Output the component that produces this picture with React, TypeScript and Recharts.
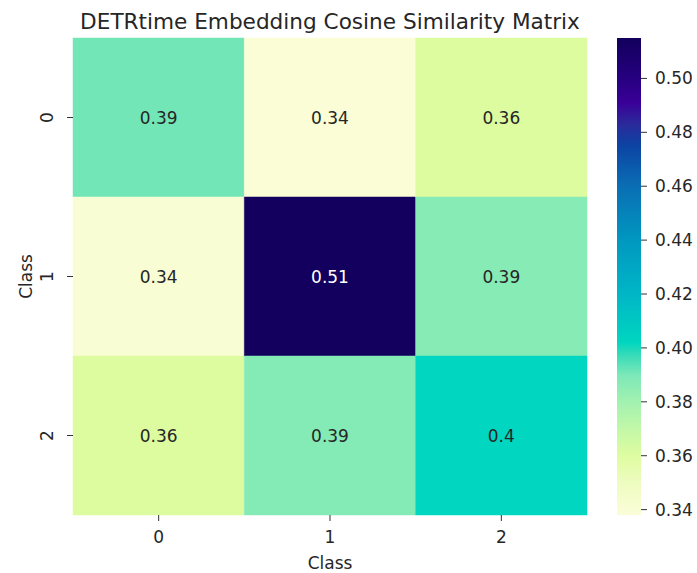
import React from 'react';
import { BarChart, Bar, XAxis, YAxis, Cell, LabelList } from 'recharts';

const rowLabels = ['0', '1', '2'];
const colLabels = ['0', '1', '2'];
const row0 = [0.391, 0.339, 0.3605];
const row1 = [0.34, 0.514, 0.387];
const row2 = [0.3605, 0.388, 0.402];
const matrix = [row0, row1, row2];
const colorbarTicks = [0.34, 0.36, 0.38, 0.4, 0.42, 0.44, 0.46, 0.48, 0.5];
const vmin = 0.338;
const vmax = 0.515;

const cmapValues = [0.338, 0.35, 0.36, 0.37, 0.38, 0.39, 0.398, 0.402, 0.42, 0.44, 0.46, 0.475, 0.483, 0.491, 0.5, 0.515];
const cmapColors = ['#fbfdd8', '#eefcc0', '#defca0', '#c2f8a8', '#a2f1b0', '#7ce8b8', '#30dab8', '#00d6c0', '#00b6c6', '#0098c0', '#0a6eb4', '#0c44a4', '#2a2a9a', '#3a0098', '#260080', '#12005c'];

const FONT = 'DejaVu Sans';
const TEXT = '#262626';

function hexToRgb(h: string) {
  const n = parseInt(h.slice(1), 16);
  return [(n >> 16) & 255, (n >> 8) & 255, n & 255];
}
function colorFor(v: number) {
  if (v <= cmapValues[0]) return cmapColors[0];
  for (let i = 1; i < cmapValues.length; i++) {
    if (v <= cmapValues[i]) {
      const t = (v - cmapValues[i - 1]) / (cmapValues[i] - cmapValues[i - 1]);
      const a = hexToRgb(cmapColors[i - 1]);
      const b = hexToRgb(cmapColors[i]);
      const c = a.map((x, k) => Math.round(x + (b[k] - x) * t));
      return `rgb(${c[0]},${c[1]},${c[2]})`;
    }
  }
  return cmapColors[cmapColors.length - 1];
}
function luminance(v: number) {
  const col = colorFor(v);
  let rgb: number[];
  if (col.startsWith('#')) rgb = hexToRgb(col);
  else rgb = col.slice(4, -1).split(',').map(Number);
  const lin = rgb.map((c) => {
    const s = c / 255;
    return s <= 0.03928 ? s / 12.92 : Math.pow((s + 0.055) / 1.055, 2.4);
  });
  return 0.2126 * lin[0] + 0.7152 * lin[1] + 0.0722 * lin[2];
}
function fmt2g(v: number) {
  return String(Number(v.toPrecision(2)));
}

const data = matrix.map((vals, i) => ({
  row: rowLabels[i],
  c0: 1,
  c1: 1,
  c2: 1,
  v0: vals[0],
  v1: vals[1],
  v2: vals[2],
}));

const colorbarData = [{ name: 'cb', range: [vmin, vmax] }];

const renderAnno = (props: any) => {
  const { x, y, width, height, value } = props;
  const cx = Number(x) + Number(width) / 2;
  const cy = Number(y) + Number(height) / 2;
  const v = Number(value);
  const fill = luminance(v) > 0.408 ? TEXT : '#ffffff';
  return (
    <text x={cx} y={cy} textAnchor="middle" dominantBaseline="central" fill={fill} fontSize={17} fontFamily={FONT}>
      {fmt2g(v)}
    </text>
  );
};

const YTick = (props: any) => {
  const { x, y, payload } = props;
  return (
    <text
      x={0}
      y={0}
      transform={`translate(${x - 12},${y}) rotate(-90)`}
      textAnchor="middle"
      fill={TEXT}
      fontSize={17}
      fontFamily={FONT}
    >
      {payload.value}
    </text>
  );
};

export default function App() {
  return (
    <div style={{ position: 'absolute', left: 0, top: 0, width: 697, height: 573, background: '#fff', fontFamily: FONT }}>
      <svg width={697} height={40} style={{ position: 'absolute', left: 0, top: 0 }}>
        <text x={330} y={29} textAnchor="middle" fontSize={21.6} fill={TEXT} fontFamily={FONT}>
          DETRtime Embedding Cosine Similarity Matrix
        </text>
      </svg>
      <div style={{ position: 'absolute', left: 0, top: 0 }}>
        <BarChart
          width={597}
          height={573}
          data={data}
          layout="vertical"
          margin={{ top: 38, right: 10, bottom: 2, left: 13 }}
          barCategoryGap={0}
          barGap={0}
        >
          <XAxis
            type="number"
            domain={[0, 3]}
            ticks={[0.5, 1.5, 2.5]}
            tickFormatter={(v: number) => colLabels[Math.round(v - 0.5)]}
            axisLine={false}
            tickLine={{ stroke: '#333' }}
            tickSize={6}
            tickMargin={10}
            height={56}
            tick={{ fill: TEXT, fontSize: 17, fontFamily: FONT }}
            label={{
              content: (p: any) => {
                const vb = p.viewBox;
                return (
                  <text x={vb.x + vb.width / 2} y={vb.y + 54} textAnchor="middle" fill={TEXT} fontSize={17} fontFamily={FONT}>
                    Class
                  </text>
                );
              },
            }}
          />
          <YAxis
            type="category"
            dataKey="row"
            width={60}
            axisLine={false}
            tickLine={{ stroke: '#333' }}
            tickSize={6}
            tick={<YTick />}
            label={{
              content: (p: any) => {
                const vb = p.viewBox;
                const cx = vb.x + 18.5;
                const cy = vb.y + vb.height / 2;
                return (
                  <text
                    x={0}
                    y={0}
                    transform={`translate(${cx},${cy}) rotate(-90)`}
                    textAnchor="middle"
                    fill={TEXT}
                    fontSize={17}
                    fontFamily={FONT}
                  >
                    Class
                  </text>
                );
              },
            }}
          />
          {colLabels.map((c, j) => (
            <Bar key={c} dataKey={`c${j}`} stackId="a" isAnimationActive={false}>
              {data.map((d: any, i) => (
                <Cell key={i} fill={colorFor(d[`v${j}`])} stroke={colorFor(d[`v${j}`])} strokeWidth={0.5} />
              ))}
              <LabelList dataKey={`v${j}`} content={renderAnno} />
            </Bar>
          ))}
        </BarChart>
      </div>
      <div style={{ position: 'absolute', left: 617, top: 28 }}>
        <BarChart width={80} height={497} data={colorbarData} margin={{ top: 10, right: 0, bottom: 10, left: 0 }} barCategoryGap={0}>
          <defs>
            <linearGradient id="cbGrad" x1="0" y1="0" x2="0" y2="1">
              {cmapValues
                .slice()
                .reverse()
                .map((v, k) => (
                  <stop key={k} offset={`${((vmax - v) / (vmax - vmin)) * 100}%`} stopColor={colorFor(v)} />
                ))}
            </linearGradient>
          </defs>
          <XAxis dataKey="name" hide />
          <YAxis
            orientation="right"
            type="number"
            domain={[vmin, vmax]}
            allowDataOverflow
            ticks={colorbarTicks}
            tickFormatter={(v: number) => v.toFixed(2)}
            width={56}
            axisLine={false}
            tickLine={{ stroke: '#333' }}
            tickSize={6}
            tickMargin={8}
            tick={{ fill: TEXT, fontSize: 17, fontFamily: FONT }}
          />
          <Bar dataKey="range" fill="url(#cbGrad)" isAnimationActive={false} />
        </BarChart>
      </div>
    </div>
  );
}
